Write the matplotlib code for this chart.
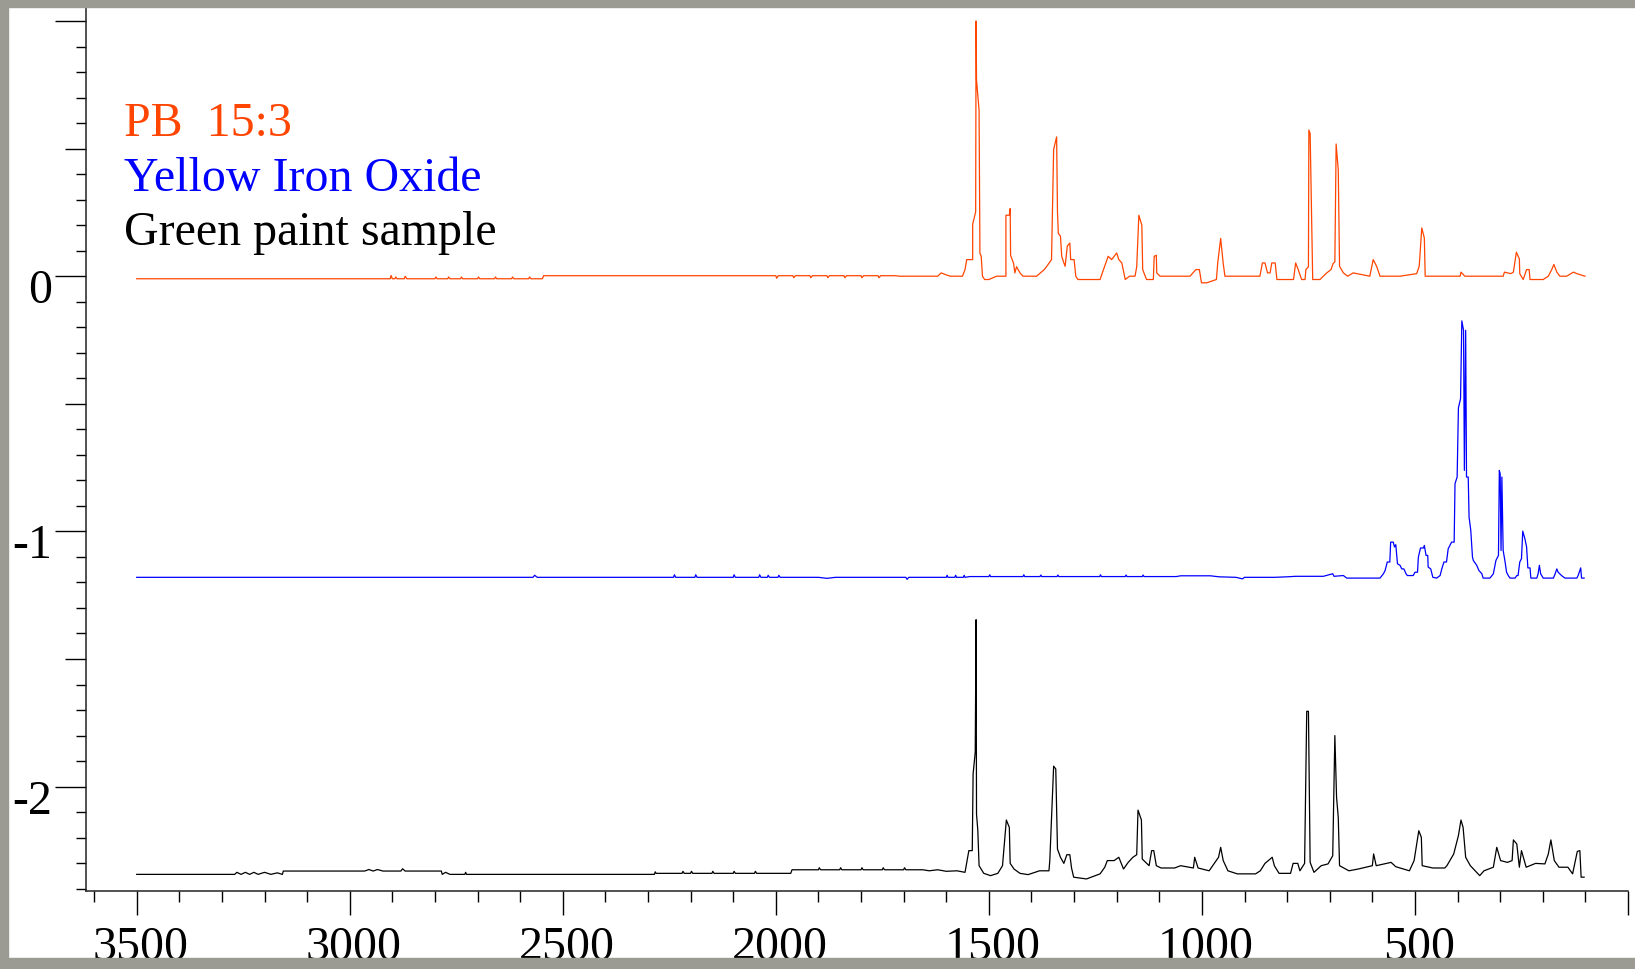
import matplotlib
matplotlib.use("Agg")
import matplotlib.pyplot as plt
import matplotlib.transforms as mtransforms
from matplotlib.patches import Rectangle
from matplotlib.ticker import MultipleLocator, FixedLocator

# Raman spectra stacked with offsets: (wavenumber cm-1, offset intensity)

pb_points = [
    (3500, -0.010), (2905, -0.010), (2903, 0.003), (2900, -0.010), (2894, -0.010),
    (2892, -0.003), (2889, -0.010), (2872, -0.010), (2870, 0.000), (2866, -0.010),
    (2800, -0.010), (2798, -0.003), (2795, -0.010), (2770, -0.010), (2768, -0.003),
    (2765, -0.010), (2740, -0.010), (2738, -0.003), (2735, -0.010), (2700, -0.010),
    (2698, -0.003), (2695, -0.010), (2660, -0.010), (2658, -0.003), (2655, -0.010),
    (2620, -0.010), (2618, -0.003), (2615, -0.010), (2580, -0.010), (2578, -0.003),
    (2575, -0.010), (2548, -0.010), (2545, 0.002), (2000, 0.002), (1998, -0.008),
    (1994, 0.002), (1960, 0.002), (1958, -0.006), (1954, 0.002), (1920, 0.002),
    (1918, -0.006), (1914, 0.002), (1880, 0.002), (1878, -0.006), (1874, 0.002),
    (1840, 0.002), (1838, -0.006), (1834, 0.002), (1800, 0.002), (1798, -0.006),
    (1794, 0.002), (1760, 0.002), (1758, -0.006), (1754, 0.002), (1720, 0.002),
    (1709, 0.000), (1620, 0.000), (1612, 0.013), (1600, 0.005), (1590, 0.000),
    (1562, 0.000), (1556, 0.026), (1552, 0.065), (1538, 0.065), (1538, 0.204),
    (1531, 0.252), (1530, 1.000), (1529, 0.769), (1523, 0.651), (1521, 0.090),
    (1518, 0.078), (1515, 0.000), (1510, -0.013), (1500, -0.013), (1482, 0.000),
    (1460, 0.000), (1460, 0.239), (1452, 0.239), (1450, 0.265), (1449, 0.082),
    (1442, 0.050), (1439, 0.013), (1435, 0.037), (1427, 0.013), (1420, 0.000),
    (1388, 0.000), (1370, 0.026), (1364, 0.039), (1353, 0.065), (1348, 0.497),
    (1341, 0.546), (1339, 0.252), (1337, 0.168), (1332, 0.157), (1329, 0.078),
    (1324, 0.052), (1321, 0.039), (1316, 0.118), (1310, 0.130), (1308, 0.065),
    (1300, 0.065), (1296, 0.000), (1291, -0.013), (1239, -0.013), (1231, 0.026),
    (1220, 0.078), (1212, 0.065), (1206, 0.078), (1200, 0.091), (1195, 0.065),
    (1188, 0.052), (1180, -0.013), (1170, 0.000), (1157, 0.000), (1153, 0.037),
    (1148, 0.239), (1141, 0.200), (1139, 0.026), (1130, -0.013), (1114, -0.013),
    (1112, 0.078), (1107, 0.082), (1106, 0.013), (1098, 0.000), (1028, 0.000),
    (1014, 0.026), (1006, 0.026), (1001, -0.026), (989, -0.026), (966, -0.013),
    (963, 0.050), (956, 0.148), (950, 0.050), (946, 0.000), (864, 0.000),
    (858, 0.052), (852, 0.052), (846, 0.013), (840, 0.013), (836, 0.052),
    (828, 0.052), (824, -0.013), (785, -0.013), (780, 0.052), (774, 0.026),
    (766, -0.013), (758, -0.013), (756, 0.026), (750, 0.037), (749, 0.573),
    (746, 0.559), (740, -0.013), (723, -0.013), (707, 0.013), (697, 0.026),
    (692, 0.050), (688, 0.056), (685, 0.518), (680, 0.416), (677, 0.039),
    (668, 0.013), (658, 0.000), (645, 0.013), (606, 0.000), (598, 0.065),
    (590, 0.039), (582, 0.000), (535, 0.000), (496, 0.010), (490, 0.039),
    (484, 0.189), (478, 0.150), (476, 0.000), (394, 0.000), (392, 0.016),
    (383, 0.000), (293, 0.000), (290, 0.016), (275, 0.010), (269, 0.016),
    (262, 0.094), (255, 0.068), (254, 0.010), (246, -0.013), (238, 0.026),
    (232, 0.026), (230, -0.013), (199, -0.013), (187, 0.000), (179, 0.026),
    (174, 0.046), (167, 0.016), (160, 0.000), (144, 0.000), (128, 0.016),
    (120, 0.010), (101, 0.000),
]

yio_points = [
    (3500, -1.180), (2570, -1.180), (2566, -1.172), (2560, -1.180), (2240, -1.180),
    (2238, -1.170), (2235, -1.180), (2190, -1.180), (2188, -1.170), (2185, -1.180),
    (2100, -1.180), (2098, -1.170), (2095, -1.180), (2040, -1.180), (2038, -1.170),
    (2035, -1.180), (2020, -1.180), (2018, -1.172), (2015, -1.180), (1995, -1.180),
    (1993, -1.172), (1990, -1.180), (1900, -1.180), (1880, -1.184), (1860, -1.180),
    (1695, -1.180), (1692, -1.188), (1688, -1.180), (1640, -1.180), (1600, -1.180),
    (1598, -1.172), (1596, -1.180), (1580, -1.180), (1578, -1.172), (1576, -1.180),
    (1560, -1.180), (1558, -1.172), (1556, -1.180), (1545, -1.177), (1500, -1.177),
    (1498, -1.170), (1496, -1.177), (1420, -1.177), (1418, -1.170), (1416, -1.177),
    (1380, -1.177), (1378, -1.171), (1376, -1.177), (1340, -1.177), (1338, -1.171),
    (1336, -1.177), (1240, -1.177), (1238, -1.170), (1236, -1.177), (1180, -1.177),
    (1178, -1.171), (1176, -1.177), (1140, -1.177), (1138, -1.171), (1136, -1.177),
    (1060, -1.177), (1050, -1.174), (980, -1.174), (960, -1.178), (920, -1.180),
    (905, -1.186), (900, -1.180), (830, -1.180), (800, -1.178), (780, -1.176),
    (715, -1.176), (693, -1.166), (690, -1.176), (668, -1.173), (660, -1.183),
    (582, -1.183), (574, -1.166), (570, -1.153), (565, -1.120), (559, -1.120),
    (557, -1.042), (551, -1.042), (548, -1.061), (545, -1.052), (541, -1.127),
    (535, -1.133), (531, -1.147), (526, -1.147), (521, -1.166), (518, -1.173),
    (504, -1.173), (500, -1.160), (494, -1.160), (492, -1.101), (487, -1.065),
    (480, -1.065), (478, -1.055), (474, -1.094), (470, -1.094), (469, -1.140),
    (463, -1.147), (458, -1.180), (449, -1.183), (441, -1.173), (437, -1.147),
    (432, -1.120), (426, -1.120), (422, -1.068), (414, -1.042), (408, -1.042),
    (406, -0.813), (401, -0.787), (398, -0.516), (393, -0.480), (390, -0.175),
    (386, -0.212), (384, -0.761), (381, -0.212), (379, -0.787), (375, -0.787),
    (373, -0.944), (369, -0.996), (365, -1.101), (363, -1.114), (355, -1.133),
    (350, -1.153), (343, -1.166), (340, -1.183), (324, -1.183), (316, -1.166),
    (310, -1.114), (304, -1.094), (302, -0.761), (300, -0.774), (298, -1.075),
    (296, -0.787), (293, -1.075), (289, -1.114), (285, -1.160), (281, -1.173),
    (277, -1.183), (265, -1.183), (261, -1.173), (258, -1.173), (254, -1.120),
    (250, -1.107), (247, -0.999), (242, -1.029), (238, -1.061), (235, -1.143),
    (230, -1.143), (228, -1.183), (214, -1.183), (211, -1.166), (208, -1.133),
    (205, -1.166), (199, -1.183), (175, -1.183), (171, -1.166), (167, -1.147),
    (164, -1.160), (156, -1.173), (148, -1.183), (120, -1.183), (117, -1.173),
    (111, -1.143), (109, -1.183), (103, -1.183),
]

gps_points = [
    (3500, -2.344), (3270, -2.344), (3265, -2.336), (3255, -2.344), (3245, -2.336),
    (3235, -2.344), (3225, -2.336), (3215, -2.344), (3200, -2.336), (3185, -2.344),
    (3170, -2.338), (3158, -2.344), (3156, -2.331), (2965, -2.331), (2955, -2.325),
    (2945, -2.331), (2935, -2.325), (2922, -2.331), (2880, -2.331), (2876, -2.322),
    (2870, -2.331), (2785, -2.331), (2783, -2.344), (2775, -2.336), (2765, -2.344),
    (2730, -2.344), (2728, -2.336), (2726, -2.344), (2285, -2.344), (2283, -2.334),
    (2281, -2.340), (2220, -2.340), (2218, -2.332), (2215, -2.340), (2200, -2.340),
    (2198, -2.332), (2195, -2.340), (2150, -2.340), (2148, -2.332), (2145, -2.340),
    (2100, -2.340), (2098, -2.332), (2095, -2.340), (2050, -2.340), (2048, -2.332),
    (2045, -2.340), (1965, -2.340), (1962, -2.326), (1900, -2.326), (1898, -2.318),
    (1895, -2.326), (1850, -2.326), (1848, -2.318), (1845, -2.326), (1800, -2.326),
    (1798, -2.318), (1795, -2.326), (1750, -2.326), (1748, -2.318), (1745, -2.326),
    (1700, -2.326), (1698, -2.318), (1695, -2.326), (1655, -2.326), (1640, -2.330),
    (1620, -2.326), (1600, -2.332), (1575, -2.330), (1556, -2.336), (1547, -2.251),
    (1539, -2.251), (1537, -1.950), (1532, -1.865), (1530, -1.346), (1529, -2.108),
    (1526, -2.170), (1523, -2.310), (1512, -2.340), (1496, -2.349), (1479, -2.340),
    (1468, -2.310), (1459, -2.131), (1452, -2.160), (1450, -2.301), (1441, -2.323),
    (1427, -2.340), (1408, -2.345), (1381, -2.330), (1359, -2.330), (1357, -2.290),
    (1348, -1.920), (1343, -1.931), (1339, -2.245), (1332, -2.277), (1324, -2.301),
    (1317, -2.267), (1310, -2.267), (1306, -2.319), (1301, -2.355), (1271, -2.362),
    (1250, -2.349), (1239, -2.342), (1228, -2.316), (1222, -2.290), (1206, -2.290),
    (1195, -2.277), (1184, -2.323), (1173, -2.297), (1162, -2.277), (1153, -2.267),
    (1150, -2.092), (1142, -2.131), (1140, -2.284), (1124, -2.310), (1118, -2.251),
    (1113, -2.251), (1107, -2.310), (1096, -2.319), (1064, -2.319), (1050, -2.310),
    (1020, -2.319), (1017, -2.277), (1009, -2.319), (983, -2.330), (961, -2.277),
    (956, -2.238), (950, -2.290), (939, -2.330), (917, -2.342), (874, -2.342),
    (863, -2.330), (852, -2.301), (835, -2.277), (830, -2.310), (819, -2.340),
    (792, -2.340), (786, -2.301), (775, -2.301), (770, -2.330), (759, -2.301),
    (754, -1.705), (750, -1.705), (746, -2.297), (737, -2.336), (720, -2.310),
    (704, -2.303), (693, -2.271), (688, -1.800), (684, -2.042), (680, -2.121),
    (677, -2.310), (655, -2.330), (633, -2.323), (600, -2.310), (597, -2.264),
    (591, -2.310), (556, -2.297), (545, -2.314), (513, -2.330), (502, -2.290),
    (491, -2.173), (485, -2.199), (483, -2.310), (458, -2.319), (430, -2.319),
    (425, -2.310), (409, -2.264), (398, -2.192), (392, -2.131), (387, -2.160),
    (381, -2.277), (370, -2.310), (348, -2.349), (338, -2.330), (316, -2.316),
    (308, -2.238), (299, -2.290), (283, -2.297), (272, -2.290), (269, -2.209),
    (261, -2.225), (255, -2.316), (250, -2.251), (239, -2.316), (217, -2.301),
    (195, -2.303), (187, -2.264), (181, -2.209), (173, -2.290), (162, -2.316),
    (141, -2.316), (130, -2.342), (119, -2.254), (113, -2.251), (110, -2.355),
    (103, -2.355),
]

names = ["PB  15:3", "Yellow Iron Oxide", "Green paint sample"]
colors = ["#ff4500", "#0000ff", "#000000"]
name_baselines = [135.7, 191, 245]  # pixel rows of the three names

W, H = 1635, 969
PT = 0.72  # points per pixel at 100 dpi
fig = plt.figure(figsize=(W / 100, H / 100), dpi=100)
fig.patch.set_facecolor("white")

# axes placed in pixel units
x0, x1 = 86, 1628
ytop, ybot = 8, 890.7
ax = fig.add_axes([x0 / W, (H - ybot) / H, (x1 - x0) / W, (ybot - ytop) / H])
ax.set_xlim(3619, 0)
ax.set_ylim(-2.408, 1.051)

for pts, c in zip([pb_points, yio_points, gps_points], colors):
    wn, val = zip(*pts)
    ax.plot(wn, val, color=c, lw=0.9)

for s in ["top", "right"]:
    ax.spines[s].set_visible(False)
for s in ["left", "bottom"]:
    ax.spines[s].set_linewidth(1.1)
    ax.spines[s].set_color("#222222")

font = "Liberation Serif"
fs = 34.5

ax.xaxis.set_minor_locator(MultipleLocator(100))
ax.set_xticks([3500, 3000, 2500, 2000, 1500, 1000, 500, 0],
              ["3500", "3000", "2500", "2000", "1500", "1000", "500", ""])
ax.tick_params(axis="x", which="major", length=24 * PT, width=1.0, direction="out",
               pad=8.0, labelsize=fs)
ax.tick_params(axis="x", which="minor", length=11 * PT, width=1.0, direction="out")

ax.set_yticks([-2, -1, 0, 1], ["-2", "-1", "0", ""])
ax.yaxis.set_minor_locator(FixedLocator([v / 10 for v in range(-24, 11) if v % 5]))
ax.tick_params(axis="y", which="major", length=31 * PT, width=1.0, direction="out",
               pad=2.2, labelsize=fs)
ax.tick_params(axis="y", which="minor", length=10 * PT, width=1.0, direction="out")
shift = mtransforms.ScaledTranslation(0, -10 / 100, fig.dpi_scale_trans)
for lab in ax.get_yticklabels():
    lab.set_transform(lab.get_transform() + shift)
    lab.set_fontfamily(font)
xshift = mtransforms.ScaledTranslation(4 / 100, 0, fig.dpi_scale_trans)
for lab in ax.get_xticklabels():
    lab.set_transform(lab.get_transform() + xshift)
    lab.set_fontfamily(font)

# half-unit ticks on the y axis
half = ax.secondary_yaxis("left")
half.set_yticks([-1.5, -0.5, 0.5], ["", "", ""])
half.tick_params(length=21 * PT, width=1.0, direction="out")
half.spines["left"].set_visible(False)
half.yaxis.set_minor_locator(FixedLocator([]))

# trace names
for name, c, yb in zip(names, colors, name_baselines):
    fig.text(124 / W, 1 - yb / H, name, color=c, fontsize=fs, family=font,
             va="baseline", ha="left")

# grey frame around the plot
grey = "#9b9b93"
for (rx, ry, rw, rh) in [(0, 0, W, 7), (0, 0, 8, H), (0, 958, W, H - 958)]:
    fig.patches.append(Rectangle((rx / W, 1 - (ry + rh) / H), rw / W, rh / H,
                                 transform=fig.transFigure, color=grey, zorder=10))

fig.savefig("out.png", dpi=100)
